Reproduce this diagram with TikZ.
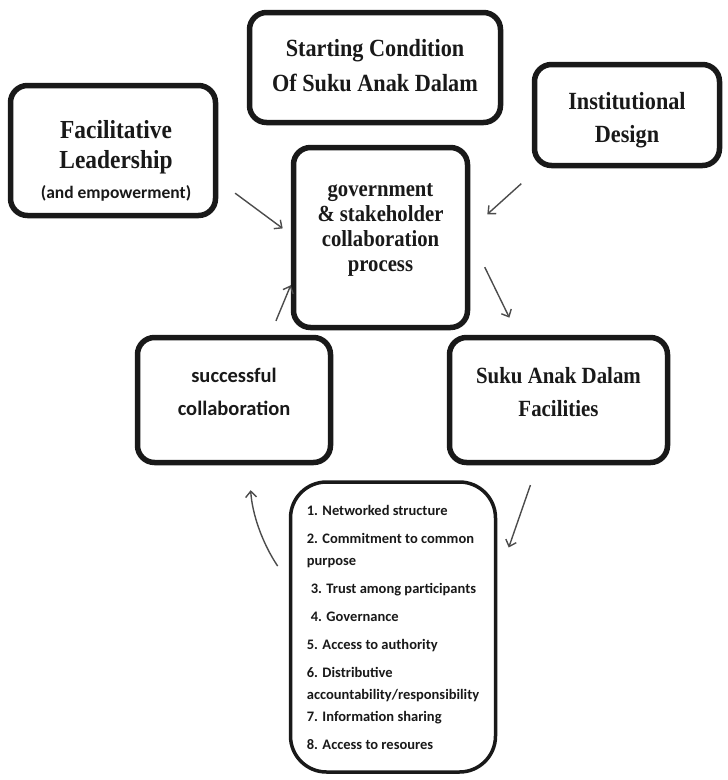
\documentclass[tikz,border=0pt]{standalone}
\usepackage{fontspec}
\setmainfont{Liberation Serif}
\setsansfont{Carlito}
\newfontfamily\headfont[FakeStretch=0.9]{Liberation Serif}
\usetikzlibrary{arrows.meta}

\begin{document}
\begin{tikzpicture}[x=1pt,y=-1pt,
  box/.style={draw=black!90, line width=5.5pt, rounded corners=17pt, fill=white, inner sep=0pt},
  listbox/.style={draw=black!90, line width=3.5pt, rounded corners=36pt, fill=white, align=left, inner sep=0pt, text=black!90},
  boxtext/.style={align=center, inner sep=0pt, text=black!90},
  arr/.style={-{Straight Barb[length=6pt,width=11pt]}, line width=1.4pt, draw=black!70}]

\useasboundingbox (0,0) rectangle (728,780);

% boxes
{
\node[box, minimum width=251pt, minimum height=110pt] (start) at (375,67.5) {};
\node[box, minimum width=205pt, minimum height=130pt] (fac) at (113,150.5) {};
\node[box, minimum width=185pt, minimum height=101pt] (inst) at (627,115) {};
\node[box, minimum width=174pt, minimum height=180pt] (gov) at (380.5,237.5) {};
\node[box, minimum width=193pt, minimum height=125pt] (succ) at (234,400) {};
\node[box, minimum width=218pt, minimum height=125pt] (sad) at (558.5,400) {};
}

% box texts
{
\node[boxtext, font={\headfont\fontsize{24.7pt}{35pt}\selectfont\bfseries}] (start-t) at ([yshift=2pt]start.center)
{Starting Condition\\Of Suku Anak Dalam};

\node[boxtext, font={\headfont\fontsize{26pt}{30pt}\selectfont\bfseries}] (fac-t) at ([xshift=3pt,yshift=-10pt]fac.center)
{Facilitative\\Leadership\\{\sffamily\fontsize{17.5pt}{28pt}\selectfont (and empowerment)}};

\node[boxtext, font={\headfont\fontsize{24.7pt}{33pt}\selectfont\bfseries}] (inst-t) at ([yshift=-5pt]inst.center)
{Institutional\\Design};

\node[boxtext, font={\headfont\fontsize{23pt}{25pt}\selectfont\bfseries}] (gov-t) at ([yshift=8pt]gov.center)
{government\\\& stakeholder\\collaboration\\process};

\node[boxtext, font={\sffamily\fontsize{20.5pt}{33pt}\selectfont\bfseries}] (succ-t) at ([yshift=8pt]succ.center)
{successful\\collaboration};

\node[boxtext, font={\headfont\fontsize{23.2pt}{33pt}\selectfont\bfseries}] (sad-t) at ([yshift=8pt]sad.center)
{Suku Anak Dalam\\Facilities};
}

% list of conditions
{
\node[listbox, minimum width=205pt, minimum height=290pt, font={\sffamily\fontsize{14.5pt}{22pt}\selectfont\bfseries}] (list) at (393,627)
{1. Networked structure\\[6pt]
2. Commitment to common\\
purpose\\[6pt]
\hspace{4pt}3. Trust among participants\\[6pt]
\hspace{4pt}4. Governance\\[6pt]
5. Access to authority\\[6pt]
6. Distributive\\
accountability/responsibility\\
7. Information sharing\\[6pt]
8. Access to resoures};
}

% arrows
{
\draw[arr, shorten <=21pt, shorten >=10pt] (fac.-16) -- (gov.178);
\draw[arr, shorten <=23pt, shorten >=23pt] (inst.211) -- (gov.5);
\draw[arr, shorten <=33pt, shorten >=19pt] (gov.0) -- (sad.122);
\draw[arr, shorten <=15pt, shorten >=0pt] (succ.61) -- (gov.208);
\draw[arr, shorten <=21pt, shorten >=35pt] (sad.252) -- (list.24);
\draw[arr, shorten <=20pt, shorten >=25pt] (list.157) to[bend left=15] (succ.283);
}

\end{tikzpicture}
\end{document}
